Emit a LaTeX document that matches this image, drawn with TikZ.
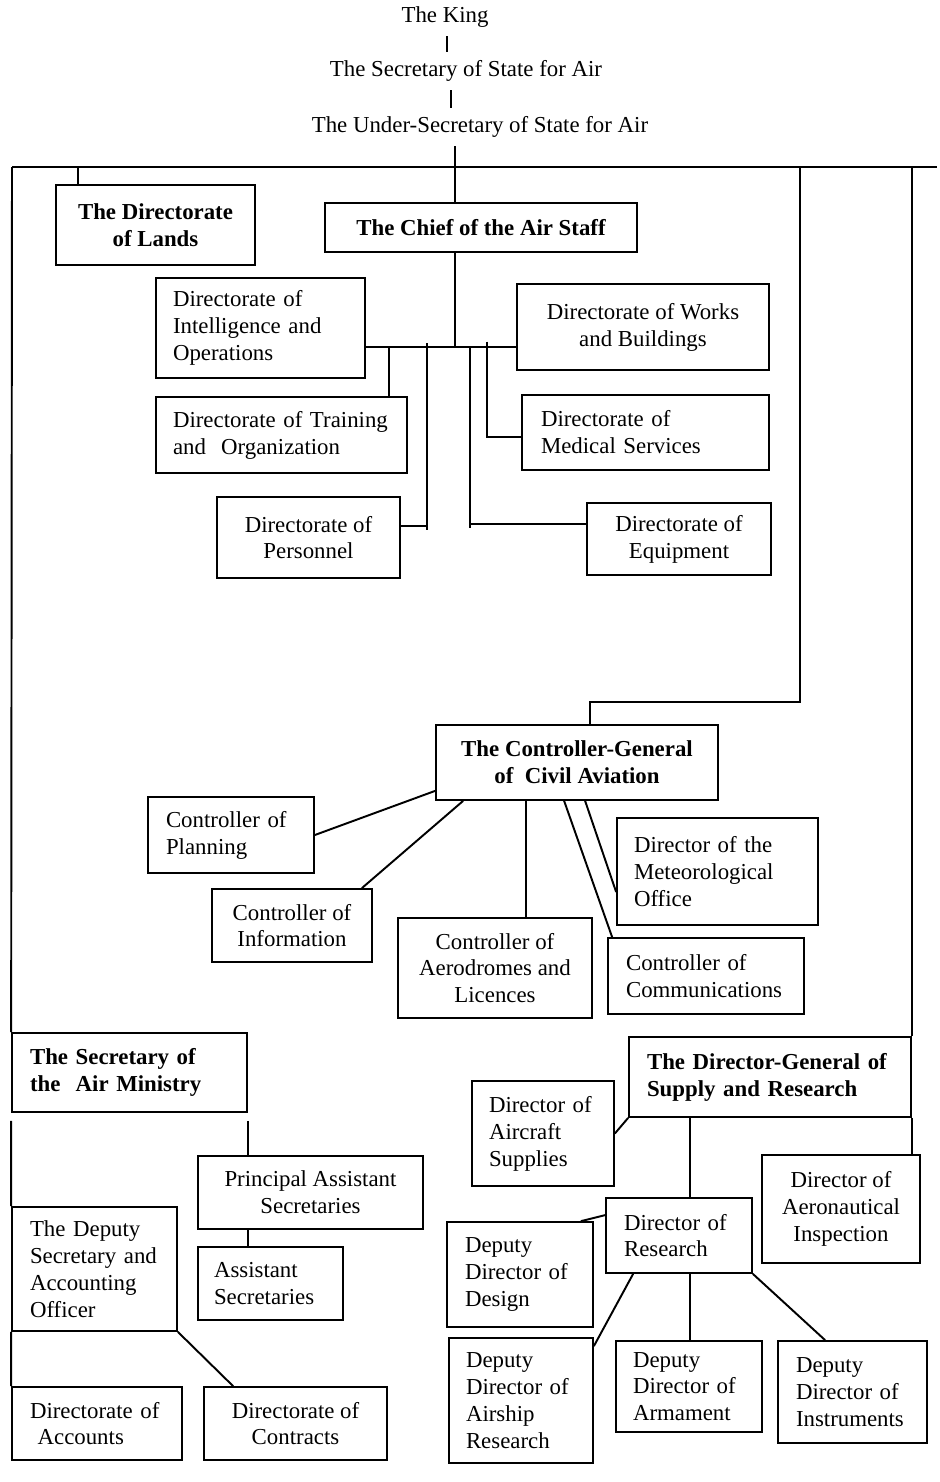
\documentclass[tikz,border=0pt]{standalone}
\usepackage{fontspec}
\setmainfont{Liberation Serif}

\begin{document}
\begin{tikzpicture}[x=0.02cm, y=-0.02cm, line width=1.1pt,
	txt/.style={font=\fontsize{13}{15.3}\selectfont, inner sep=0pt},
	head/.style={txt, inner ysep=0.16cm},
	box/.style={txt, draw, line width=1pt},
	lbox/.style 2 args={box, align=left, text width=#1, inner xsep=#2},
	cbox/.style 2 args={box, align=center, minimum width=#1, minimum height=#2},
	bold/.style={font=\fontsize{13}{15.3}\selectfont\bfseries}]
	\useasboundingbox (0,0) rectangle (940,1482);

	% Đầu sơ đồ
	\node[head] (king) at (445,17) {The King};
	\node[head] (sos) at (466,71) {The Secretary of State for Air};
	\node[head] (uss) at (480,127) {The Under-Secretary of State for Air};

	% Hàng trên cùng
	\node[cbox={3.98cm}{1.6cm}, bold] (lands) at (155.5,225) {The Directorate\\of Lands};
	\node[cbox={6.24cm}{0.98cm}, bold] (chief) at (481,227.5) {The Chief of the Air Staff};

	% Các cục dưới Chief of the Air Staff
	\node[lbox={3.5cm}{0.34cm}, minimum height=2cm] (intel) at (260.5,328) {Directorate of\\Intelligence and\\Operations};
	\node[cbox={5.04cm}{1.72cm}] (works) at (643,327) {Directorate of Works\\and Buildings};
	\node[lbox={4.34cm}{0.34cm}, minimum height=1.52cm] (train) at (281.5,435) {Directorate of Training\\and~~Organization};
	\node[lbox={4.18cm}{0.38cm}, minimum height=1.5cm] (med) at (645.5,432.5) {Directorate of\\Medical Services};
	\node[cbox={3.66cm}{1.62cm}] (pers) at (308.5,537.5) {Directorate of\\Personnel};
	\node[cbox={3.68cm}{1.44cm}] (equip) at (679,539) {Directorate of\\Equipment};

	% Hàng không dân dụng
	\node[cbox={5.64cm}{1.5cm}, bold] (cg) at (577,762.5) {The Controller-General\\of~~Civil Aviation};
	\node[lbox={2.6cm}{0.36cm}, minimum height=1.52cm] (plan) at (231,835) {Controller of\\Planning};
	\node[cbox={3.2cm}{1.46cm}] (info) at (292,925.5) {Controller of\\Information};
	\node[cbox={3.88cm}{2cm}] (aerod) at (495,968) {Controller of\\Aerodromes and\\Licences};
	\node[lbox={3.34cm}{0.34cm}, minimum height=2.14cm] (met) at (717.5,871.5) {Director of the\\Meteorological\\Office};
	\node[lbox={3.2cm}{0.36cm}, minimum height=1.52cm] (comm) at (706,976) {Controller of\\Communications};

	% Nhánh Secretary of the Air Ministry
	\node[lbox={3.98cm}{0.36cm}, minimum height=1.58cm, bold] (secair) at (129.5,1072.5) {The Secretary of\\the~~Air Ministry};
	\node[cbox={4.5cm}{1.46cm}] (principal) at (310.5,1192.5) {Principal Assistant\\Secretaries};
	\node[lbox={2.26cm}{0.32cm}, minimum height=1.46cm] (assistant) at (270.5,1283.5) {Assistant\\Secretaries};
	\node[lbox={2.58cm}{0.36cm}, minimum height=2.48cm] (deputy) at (94.5,1269) {The Deputy\\Secretary and\\Accounting\\Officer};
	\node[lbox={2.68cm}{0.36cm}, minimum height=1.46cm] (accounts) at (97,1423.5) {Directorate of\\~Accounts};
	\node[cbox={3.66cm}{1.46cm}] (contracts) at (295.5,1423.5) {Directorate of\\Contracts};

	% Nhánh Supply and Research
	\node[lbox={4.92cm}{0.36cm}, minimum height=1.6cm, bold] (dg) at (770,1077) {The Director-General of\\Supply and Research};
	\node[lbox={2.16cm}{0.34cm}, minimum height=2.1cm] (aircraft) at (543,1133.5) {Director of\\Aircraft\\Supplies};
	\node[cbox={3.16cm}{2.16cm}] (aero) at (841,1209) {Director of\\Aeronautical\\Inspection};
	\node[lbox={2.2cm}{0.36cm}, minimum height=1.5cm] (research) at (679,1235.5) {Director of\\Research};
	\node[lbox={2.2cm}{0.36cm}, minimum height=2.1cm] (design) at (520,1274.5) {Deputy\\Director of\\Design};
	\node[lbox={2.2cm}{0.34cm}, minimum height=2.5cm] (airship) at (521,1400.5) {Deputy\\Director of\\Airship\\Research};
	\node[lbox={2.24cm}{0.34cm}, minimum height=1.82cm] (armament) at (689,1386.5) {Deputy\\Director of\\Armament};
	\node[lbox={2.26cm}{0.36cm}, minimum height=2.04cm] (instruments) at (852.5,1392) {Deputy\\Director of\\Instruments};

	% Các đường nối phía trên
	\coordinate (spineA) at (447,0);
	\coordinate (spineB) at (451,0);
	\coordinate (spine) at (455,167);
	\coordinate (busL) at (12,167);
	\coordinate (busR) at (937,167);
	\coordinate (hub) at (455,347);
	\draw (king.south -| spineA) -- (sos.north -| spineA);
	\draw (sos.south -| spineB) -- (uss.north -| spineB);
	\draw (uss.south -| spine) -- (chief.north -| spine);
	\draw (busL) -- (busR);
	\coordinate (landsTap) at ([xshift=0.46cm]lands.north west);
	\draw (landsTap |- busL) -- (landsTap);

	% Thanh nối các cục
	\draw (chief.south -| spine) -- (hub);
	\draw (intel.east |- hub) -- (works.west |- hub);
	\coordinate (tapT) at ([xshift=-0.38cm]train.north east);
	\draw (tapT |- hub) -- (tapT);
	\coordinate (tapP) at (427,526);
	\draw[shorten <=-2pt, shorten >=-2pt] (tapP |- hub) -- (tapP);
	\draw (tapP) -- (pers.east |- tapP);
	\coordinate (tapE) at (470,524);
	\draw[shorten >=-2pt] (tapE |- hub) -- (tapE);
	\draw (tapE) -- (equip.west |- tapE);
	\coordinate (tapM) at (487,437);
	\draw[shorten <=-3pt] (tapM |- hub) -- (tapM) -- (med.west |- tapM);

	% Nối xuống Controller-General
	\coordinate (cgTurn) at (800,702);
	\coordinate (cgTop) at (590,725);
	\draw (cgTurn |- busL) -- (cgTurn) -- (cgTop |- cgTurn) -- (cgTop);
	\draw (plan.east) -- ([yshift=0.2cm]cg.south west);
	\draw ([xshift=-0.22cm]info.north east) -- ([xshift=0.56cm]cg.south west);
	\coordinate (aerodTap) at ([xshift=1.82cm]cg.south west);
	\draw (aerodTap) -- (aerodTap |- aerod.north);
	\draw ([xshift=3cm]cg.south west) -- ([yshift=-0.41cm]met.west);
	\draw ([xshift=2.58cm]cg.south west) -- ([xshift=0.1cm]comm.north west);

	% Nhánh bên trái
	\draw (busL) -- (secair.north west);
	\draw ([yshift=-0.16cm]secair.south west) -- (deputy.north west);
	\draw (deputy.south west) -- (accounts.north west);
	\coordinate (secTap) at ([yshift=-0.16cm]secair.south east);
	\draw (secTap) -- (secTap |- principal.north);
	\draw (principal.south -| secTap) -- (assistant.north -| secTap);
	\draw (deputy.south east) -- ([xshift=0.6cm]contracts.north west);

	% Nhánh bên phải
	\draw (dg.north east |- busR) -- (dg.north east);
	\draw (dg.south east) -- (dg.south east |- aero.north);
	\draw (aircraft.east) -- (dg.south west);
	\coordinate (resTap) at ([xshift=0.22cm]research.north);
	\draw (resTap) -- (resTap |- dg.south);
	\draw ([xshift=-0.26cm]design.north east) -- ([yshift=-0.36cm]research.north west);
	\draw ([yshift=-0.18cm]airship.north east) -- ([xshift=0.56cm]research.south west);
	\coordinate (armTap) at ([xshift=0.22cm]research.south);
	\draw (armTap) -- (armTap |- armament.north);
	\draw (research.south east) -- ([xshift=0.96cm]instruments.north west);
\end{tikzpicture}
\end{document}
